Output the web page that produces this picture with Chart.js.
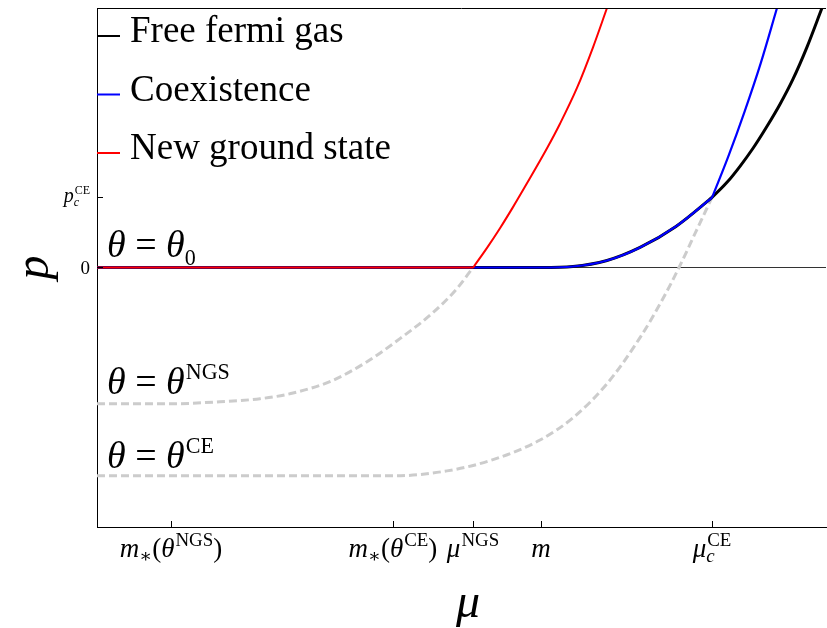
<!DOCTYPE html>
<html lang="en">
<head>
    <meta charset="UTF-8">
    <title>Pressure vs chemical potential</title>
    <script src="https://cdn.jsdelivr.net/npm/chart.js@4.4.1/dist/chart.umd.min.js"></script>
    <style>
        body {
            margin: 0;
            padding: 0;
            background: #fff;
        }
        #pressureChart {
            display: block;
        }
    </style>
</head>
<body>
    <canvas id="pressureChart" width="827" height="628"></canvas>
    <script>
        // axis ticks (mu in arbitrary units, p in units of p_c^CE)
        const muTicks = [1.015, 4.060, 5.158, 6.091, 8.436];
        const muTickLabels = ['m_{∗}(θ^{NGS})', 'm_{∗}(θ^{CE})', 'μ^{NGS}', 'm', 'μ_{c}^{CE}'];
        const pTicks = [0, 1];
        const pTickLabels = ['0', 'p_{c}^{CE}'];

        const seriesNames = ['Free fermi gas', 'Coexistence', 'New ground state'];

        // free fermi gas
        const freeGasMu = [0, 6.091, 6.529, 6.996, 7.449, 7.942, 8.38, 8.436, 8.642, 8.820, 8.999, 9.191, 9.369, 9.547, 9.739, 9.945];
        const freeGasP  = [0, 0, 0.014, 0.1, 0.286, 0.586, 0.95, 1.0, 1.214, 1.443, 1.7, 2.014, 2.329, 2.686, 3.143, 3.7];

        // coexistence branch, leaves the free gas at mu_c
        const coexMu = [0, 6.091, 6.529, 6.996, 7.449, 7.942, 8.38, 8.436, 8.48, 8.659, 8.882, 9.105, 9.328];
        const coexP  = [0, 0, 0.014, 0.1, 0.286, 0.586, 0.95, 1.0, 1.11, 1.58, 2.219, 2.914, 3.7];

        // new ground state
        const ngsMu = [0, 5.158, 5.19, 5.35, 5.528, 5.70, 5.898, 6.173, 6.351, 6.584, 6.804, 6.996];
        const ngsP  = [0, 0, 0.045, 0.28, 0.56, 0.85, 1.20, 1.70, 2.05, 2.56, 3.14, 3.7];

        // theta = theta^NGS, below zero pressure
        const thetaNgsMu = [0, 1.015, 1.687, 2.236, 2.689, 3.224, 3.704, 4.156, 4.609, 4.938, 5.158];
        const thetaNgsP  = [-1.943, -1.943, -1.914, -1.871, -1.79, -1.614, -1.343, -1.014, -0.643, -0.3, 0];

        // theta = theta^CE, below zero pressure
        const thetaCeMu = [0, 4.060, 4.801, 5.432, 6.077, 6.529, 6.996, 7.449, 7.764, 7.984, 8.217, 8.436];
        const thetaCeP  = [-2.971, -2.971, -2.9, -2.74, -2.46, -2.143, -1.657, -1.0, -0.443, 0, 0.514, 1.0];

        const zeroMu = [0, 10];
        const zeroP = [0, 0];

        const curveLabels = [
            { text: 'θ = θ_{0}', mu: 0.137, p: 0.143 },
            { text: 'θ = θ^{NGS}', mu: 0.137, p: -1.80 },
            { text: 'θ = θ^{CE}', mu: 0.137, p: -2.857 }
        ];

        const SERIF = '"Liberation Serif", "DejaVu Serif", serif';

        function pts(xs, ys) {
            return xs.map((x, i) => ({ x: x, y: ys[i] }));
        }

        // tiny TeX-ish parser: x^{..} superscript, x_{..} subscript
        function parseMath(s) {
            const atoms = [];
            let i = 0;
            function readGroup() {
                if (s[i] === '{') {
                    const end = s.indexOf('}', i);
                    const g = s.slice(i + 1, end);
                    i = end + 1;
                    return g;
                }
                return s[i++];
            }
            while (i < s.length) {
                const c = s[i];
                if (c === '^' || c === '_') {
                    i++;
                    const g = readGroup();
                    const last = atoms[atoms.length - 1];
                    if (c === '^') last.sup = g; else last.sub = g;
                } else {
                    atoms.push({ base: c, sup: null, sub: null });
                    i++;
                }
            }
            return atoms;
        }

        function isItalic(ch) {
            return /[a-zα-ω]/.test(ch);
        }

        function fontFor(ch, size) {
            return (isItalic(ch) ? 'italic ' : '') + size + 'px ' + SERIF;
        }

        function strWidth(ctx, str, size) {
            let w = 0;
            for (const ch of str) {
                ctx.font = fontFor(ch, size);
                w += ctx.measureText(ch).width;
            }
            return w;
        }

        function drawStr(ctx, str, x, y, size) {
            for (const ch of str) {
                ctx.font = fontFor(ch, size);
                ctx.fillText(ch, x, y);
                x += ctx.measureText(ch).width;
            }
            return x;
        }

        function mathWidth(ctx, s, size, ratio) {
            const small = size * ratio;
            let w = 0;
            for (const a of parseMath(s)) {
                w += strWidth(ctx, a.base, size);
                w += Math.max(a.sup ? strWidth(ctx, a.sup, small) + 1 : 0, a.sub ? strWidth(ctx, a.sub, small) : 0);
            }
            return w;
        }

        function drawMath(ctx, s, x, y, size, align, ratio) {
            ratio = ratio || 0.6;
            const small = size * ratio;
            const w = mathWidth(ctx, s, size, ratio);
            if (align === 'center') x -= w / 2;
            else if (align === 'right') x -= w;
            ctx.textAlign = 'left';
            ctx.textBaseline = 'alphabetic';
            for (const a of parseMath(s)) {
                x = drawStr(ctx, a.base, x, y, size);
                let adv = 0;
                if (a.sup) {
                    drawStr(ctx, a.sup, x + 1, y - size * 0.40, small);
                    adv = Math.max(adv, strWidth(ctx, a.sup, small) + 1);
                }
                if (a.sub) {
                    drawStr(ctx, a.sub, x, y + size * 0.20, small);
                    adv = Math.max(adv, strWidth(ctx, a.sub, small));
                }
                x += adv;
            }
        }

        const decorPlugin = {
            id: 'decor',
            afterDraw(chart) {
                const ctx = chart.ctx;
                const area = chart.chartArea;
                const xs = chart.scales.x;
                const ys = chart.scales.y;
                ctx.save();
                ctx.fillStyle = '#000';
                ctx.strokeStyle = '#000';
                ctx.lineWidth = 1;

                // top frame line
                ctx.beginPath();
                ctx.moveTo(area.left, area.top + 0.5);
                ctx.lineTo(area.right, area.top + 0.5);
                ctx.stroke();

                // inward tick marks
                ctx.beginPath();
                muTicks.forEach(v => {
                    const px = Math.round(xs.getPixelForValue(v)) + 0.5;
                    ctx.moveTo(px, area.bottom);
                    ctx.lineTo(px, area.bottom - 6);
                });
                pTicks.forEach(v => {
                    const py = Math.floor(ys.getPixelForValue(v)) + 0.5;
                    ctx.moveTo(area.left, py);
                    ctx.lineTo(area.left + 6, py);
                });
                ctx.stroke();

                // tick labels
                muTicks.forEach((v, i) => {
                    drawMath(ctx, muTickLabels[i], xs.getPixelForValue(v), area.bottom + 30, 27, 'center', 0.7);
                });
                drawMath(ctx, pTickLabels[0], area.left - 7, ys.getPixelForValue(pTicks[0]) + 6, 19, 'right', 0.7);
                drawMath(ctx, pTickLabels[1], area.left - 7, ys.getPixelForValue(pTicks[1]) + 5, 20, 'right', 0.6);

                // axis titles
                drawMath(ctx, 'μ', 468, 617, 48, 'center');
                ctx.save();
                ctx.translate(48, (area.top + area.bottom) / 2);
                ctx.rotate(-Math.PI / 2);
                drawMath(ctx, 'p', 0, 0, 48, 'center');
                ctx.restore();

                // curve annotations
                curveLabels.forEach(l => {
                    drawMath(ctx, l.text, xs.getPixelForValue(l.mu), ys.getPixelForValue(l.p), 38, 'left', 0.58);
                });

                // legend in the upper left corner
                const colors = chart.data.datasets.slice(0, 3).map(d => d.borderColor);
                seriesNames.forEach((name, i) => {
                    const y = 42 + i * 58.5;
                    ctx.strokeStyle = colors[i];
                    ctx.lineWidth = 2;
                    ctx.beginPath();
                    ctx.moveTo(area.left, y - 6);
                    ctx.lineTo(area.left + 23, y - 6);
                    ctx.stroke();
                    ctx.font = '37px ' + SERIF;
                    ctx.textAlign = 'left';
                    ctx.fillStyle = '#000';
                    ctx.fillText(name, area.left + 33, y);
                });
                ctx.restore();
            }
        };

        const curve = {
            fill: false,
            pointRadius: 0,
            cubicInterpolationMode: 'monotone'
        };

        new Chart(document.getElementById('pressureChart'), {
            type: 'line',
            data: {
                datasets: [
                    { ...curve, label: seriesNames[0], data: pts(freeGasMu, freeGasP), borderColor: '#000000', borderWidth: 3, order: 3 },
                    { ...curve, label: seriesNames[1], data: pts(coexMu, coexP), borderColor: '#0000ff', borderWidth: 2.2, order: 2 },
                    { ...curve, label: seriesNames[2], data: pts(ngsMu, ngsP), borderColor: '#ff0000', borderWidth: 2, order: 1 },
                    { ...curve, label: 'theta NGS', data: pts(thetaNgsMu, thetaNgsP), borderColor: '#cccccc', borderWidth: 3, borderDash: [8, 4], order: 5 },
                    { ...curve, label: 'theta CE', data: pts(thetaCeMu, thetaCeP), borderColor: '#cccccc', borderWidth: 3, borderDash: [8, 4], order: 5 },
                    { label: 'zero', data: pts(zeroMu, zeroP), borderColor: '#333333', borderWidth: 1, pointRadius: 0, order: 10 }
                ]
            },
            options: {
                responsive: false,
                animation: false,
                layout: { padding: { left: 97, top: 8, right: 1, bottom: 101 } },
                plugins: {
                    legend: { display: false },
                    tooltip: { enabled: false }
                },
                scales: {
                    x: {
                        type: 'linear',
                        min: 0,
                        max: 10,
                        ticks: { display: false },
                        grid: { display: false, drawTicks: false },
                        border: { display: true, color: '#000', width: 1 },
                        afterFit(s) { s.height = 0; }
                    },
                    y: {
                        type: 'linear',
                        min: -3.7,
                        max: 3.7,
                        ticks: { display: false },
                        grid: { display: false, drawTicks: false },
                        border: { display: true, color: '#000', width: 1 },
                        afterFit(s) { s.width = 0; }
                    }
                }
            },
            plugins: [decorPlugin]
        });
    </script>
</body>
</html>
